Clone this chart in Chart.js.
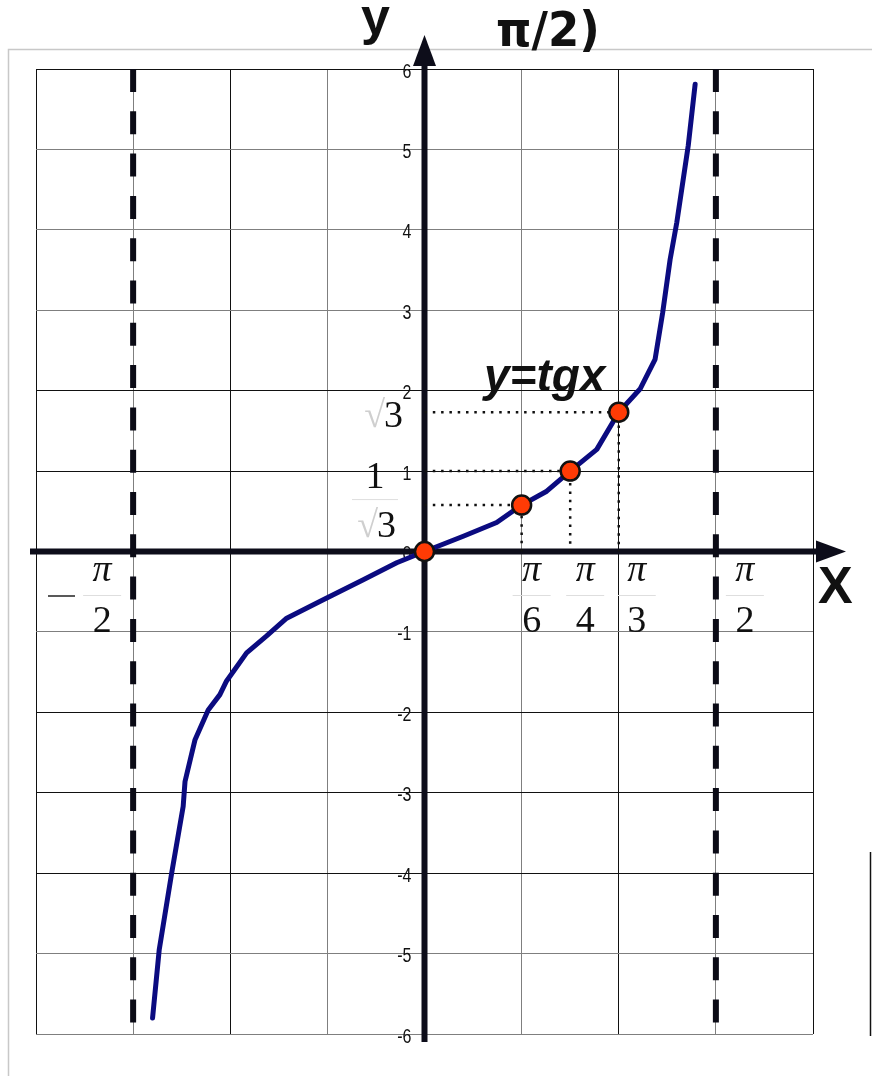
<!DOCTYPE html>
<html lang="ru">
<head>
<meta charset="utf-8">
<title>y = tgx</title>
<script src="https://cdn.jsdelivr.net/npm/chart.js@4.4.0/dist/chart.umd.min.js"></script>
<style>
  html, body { margin: 0; padding: 0; background: #fff; }
  #wrap { width: 872px; height: 1076px; }
</style>
</head>
<body>
<div id="wrap"><canvas id="graphe" width="872" height="1076"></canvas></div>
<script>
// Courbe y = tg x, tracée à la main (points relevés)
const curveX = [-1.466, -1.430, -1.363, -1.301, -1.291, -1.237, -1.166, -1.103, -1.067, -0.959,
                -0.851, -0.743, -0.546, -0.330, -0.150, 0, 0.209, 0.389, 0.5236, 0.659,
                0.7854, 0.929, 1.0472, 1.162, 1.243, 1.284, 1.324, 1.360, 1.422, 1.459];
const curveY = [-5.80, -4.95, -4.00, -3.17, -2.86, -2.34, -1.97, -1.78, -1.61, -1.26,
                -1.05, -0.83, -0.60, -0.35, -0.14, 0, 0.19, 0.36, 0.5774, 0.75,
                1.00, 1.27, 1.7321, 2.02, 2.39, 2.97, 3.63, 4.09, 5.05, 5.81];

// Points remarquables : 0, π/6, π/4, π/3
const markX = [0, 0.5236, 0.7854, 1.0472];
const markY = [0, 0.5774, 1, 1.7321];

// Asymptotes x = -π/2 et x = π/2
const asymX = [-1.5708, 1.5708];

// Graduations (pas de π/6 en x, de 1 en y)
const xTicks = [-2.0944, -1.5708, -1.0472, -0.5236, 0, 0.5236, 1.0472, 1.5708, 2.0944];
const yTicks = [-6, -5, -4, -3, -2, -1, 0, 1, 2, 3, 4, 5, 6];
const yTickLabels = ['-6', '-5', '-4', '-3', '-2', '-1', '0', '1', '2', '3', '4', '5', '6'];

// Fractions sous l'axe des x
const fracNum = ['π', 'π', 'π', 'π', 'π'];
const fracDen = ['2', '6', '4', '3', '2'];
const fracX = [-1.5708, 0.5236, 0.7854, 1.0472, 1.5708];

// décalage horizontal de chaque fraction par rapport à sa graduation
const fracShift = [-31, 10, 15, 18, 29];
// lignes de grille foncées (les autres sont grises)
const darkX = [0, 2, 6, 8];
const darkY = [2, 3, 4, 7, 8, 12];

const AXE = '#0d0d1a';
const SERIF = '"Liberation Serif", "Times New Roman", serif';
const SANS = '"Liberation Sans", Arial, sans-serif';

function trait(ctx, x1, y1, x2, y2) {
    ctx.beginPath();
    ctx.moveTo(x1, y1);
    ctx.lineTo(x2, y2);
    ctx.stroke();
}

// texte étiré verticalement (les chiffres de l'axe sont hauts et étroits)
function texteHaut(ctx, txt, x, y, sy) {
    ctx.save();
    ctx.translate(x, y);
    ctx.scale(1, sy);
    ctx.fillText(txt, 0, 0);
    ctx.restore();
}

function fraction(ctx, num, den, cx) {
    ctx.textAlign = 'center';
    ctx.textBaseline = 'alphabetic';
    ctx.fillStyle = '#111';
    ctx.font = 'italic 38px ' + SERIF;
    ctx.fillText(num, cx, 581);
    ctx.strokeStyle = '#dedede';
    ctx.lineWidth = 1;
    trait(ctx, cx - 19, 595.5, cx + 19, 595.5);
    ctx.font = '38px ' + SERIF;
    ctx.fillText(den, cx, 632);
}

const dessin = {
    id: 'dessin',
    beforeDraw(chart) {
        const ctx = chart.ctx;
        ctx.save();
        // cadre gris extérieur
        ctx.strokeStyle = '#c8c8c8';
        ctx.lineWidth = 1.5;
        ctx.beginPath();
        ctx.moveTo(8.5, 1076);
        ctx.lineTo(8.5, 49.5);
        ctx.lineTo(872, 49.5);
        ctx.stroke();
        // petit trait noir à droite
        ctx.strokeStyle = '#111';
        ctx.lineWidth = 1.5;
        trait(ctx, 870.5, 852, 870.5, 1036);
        ctx.restore();
    },
    beforeDatasetsDraw(chart) {
        const ctx = chart.ctx, xs = chart.scales.x, ys = chart.scales.y;
        const x0 = xs.getPixelForValue(0), y0 = ys.getPixelForValue(0);
        ctx.save();

        // graduations de l'axe y, collées à gauche de l'axe
        ctx.font = '16px ' + SANS;
        ctx.textAlign = 'right';
        ctx.textBaseline = 'middle';
        ctx.fillStyle = '#111';
        yTicks.forEach((v, i) => {
            texteHaut(ctx, yTickLabels[i], x0 - 13, ys.getPixelForValue(v) + 3, 1.25);
        });

        // axes avec flèches
        ctx.strokeStyle = AXE;
        ctx.fillStyle = AXE;
        ctx.lineWidth = 6;
        trait(ctx, 30, y0, 818, y0);
        trait(ctx, x0, 1042, x0, 63);
        ctx.beginPath();
        ctx.moveTo(816, y0 - 11);
        ctx.lineTo(846, y0);
        ctx.lineTo(816, y0 + 11);
        ctx.closePath();
        ctx.fill();
        ctx.beginPath();
        ctx.moveTo(x0 - 11.5, 66);
        ctx.lineTo(x0, 35);
        ctx.lineTo(x0 + 11.5, 66);
        ctx.closePath();
        ctx.fill();
        ctx.restore();
    },
    afterDraw(chart) {
        const ctx = chart.ctx, xs = chart.scales.x, ys = chart.scales.y;
        ctx.save();
        ctx.fillStyle = '#111';
        ctx.textBaseline = 'alphabetic';

        // titres
        ctx.textAlign = 'left';
        ctx.font = 'bold 52px ' + SANS;
        ctx.fillText('y', 361, 34);
        ctx.font = 'bold 45px "DejaVu Sans", ' + SANS;
        texteHaut(ctx, 'π/2)', 496, 46, 1.08);
        ctx.font = 'bold 52px ' + SANS;
        ctx.fillText('X', 818, 603);
        ctx.font = 'italic bold 46px ' + SANS;
        ctx.fillText('y=tgx', 484, 391);

        // fractions sur l'axe des x
        fracX.forEach((v, i) => {
            fraction(ctx, fracNum[i], fracDen[i], xs.getPixelForValue(v) + fracShift[i]);
        });
        ctx.strokeStyle = '#222';
        ctx.lineWidth = 1.5;
        trait(ctx, 48, 596, 75, 596);

        // 1/√3 et √3 sur l'axe des y
        const yA = ys.getPixelForValue(markY[1]);
        const yB = ys.getPixelForValue(markY[3]);
        ctx.textAlign = 'center';
        ctx.font = '38px ' + SERIF;
        ctx.fillText('1', 375, yA - 17);
        ctx.strokeStyle = '#dedede';
        ctx.lineWidth = 1;
        trait(ctx, 352, yA - 5.5, 398, yA - 5.5);
        ctx.textAlign = 'right';
        ctx.fillStyle = '#cfcfcf';
        ctx.fillText('√', 378, yA + 32);
        ctx.fillText('√', 385, yB + 15);
        ctx.textAlign = 'left';
        ctx.fillStyle = '#111';
        ctx.fillText('3', 377, yA + 32);
        ctx.fillText('3', 384, yB + 15);
        ctx.restore();
    }
};

// jeux de données : marqueurs, courbe, pointillés, asymptotes
const datasets = [];
datasets.push({
    data: markX.map((x, i) => ({ x: x, y: markY[i] })),
    showLine: false,
    pointRadius: 9.5,
    pointBorderWidth: 2.5,
    pointBackgroundColor: '#ff3b05',
    pointBorderColor: '#111'
});
datasets.push({
    data: curveX.map((x, i) => ({ x: x, y: curveY[i] })),
    showLine: true,
    borderColor: '#0b0b80',
    borderWidth: 5,
    borderJoinStyle: 'round',
    borderCapStyle: 'round',
    pointRadius: 0,
    tension: 0
});
for (let i = 1; i < markX.length; i++) {
    datasets.push({
        data: [{ x: 0, y: markY[i] }, { x: markX[i], y: markY[i] }, { x: markX[i], y: 0 }],
        showLine: true,
        borderColor: '#111',
        borderWidth: 2.5,
        borderDash: [2.5, 5.8],
        pointRadius: 0
    });
}
asymX.forEach(x => {
    datasets.push({
        data: [{ x: x, y: 6 }, { x: x, y: -6 }],
        showLine: true,
        borderColor: '#0b0b16',
        borderWidth: 6,
        borderDash: [23, 19.3],
        pointRadius: 0
    });
});

new Chart(document.getElementById('graphe'), {
    type: 'scatter',
    data: { datasets: datasets },
    options: {
        responsive: false,
        animation: false,
        events: [],
        layout: { padding: { left: 36, top: 69, right: 59, bottom: 42 } },
        plugins: { legend: { display: false }, tooltip: { enabled: false } },
        scales: {
            x: {
                type: 'linear',
                min: xTicks[0],
                max: xTicks[xTicks.length - 1],
                afterBuildTicks: s => { s.ticks = xTicks.map(v => ({ value: v })); },
                afterFit: s => { s.height = 0; },
                ticks: { display: false },
                border: { display: false },
                grid: {
                    drawTicks: false,
                    lineWidth: 1,
                    color: c => darkX.includes(c.index) ? '#111' : '#7f7f7f'
                }
            },
            y: {
                type: 'linear',
                min: yTicks[0],
                max: yTicks[yTicks.length - 1],
                afterBuildTicks: s => { s.ticks = yTicks.map(v => ({ value: v })); },
                afterFit: s => { s.width = 0; },
                ticks: { display: false },
                border: { display: false },
                grid: {
                    drawTicks: false,
                    lineWidth: 1,
                    color: c => darkY.includes(c.index) ? '#111' : '#7f7f7f'
                }
            }
        }
    },
    plugins: [dessin]
});
</script>
</body>
</html>
